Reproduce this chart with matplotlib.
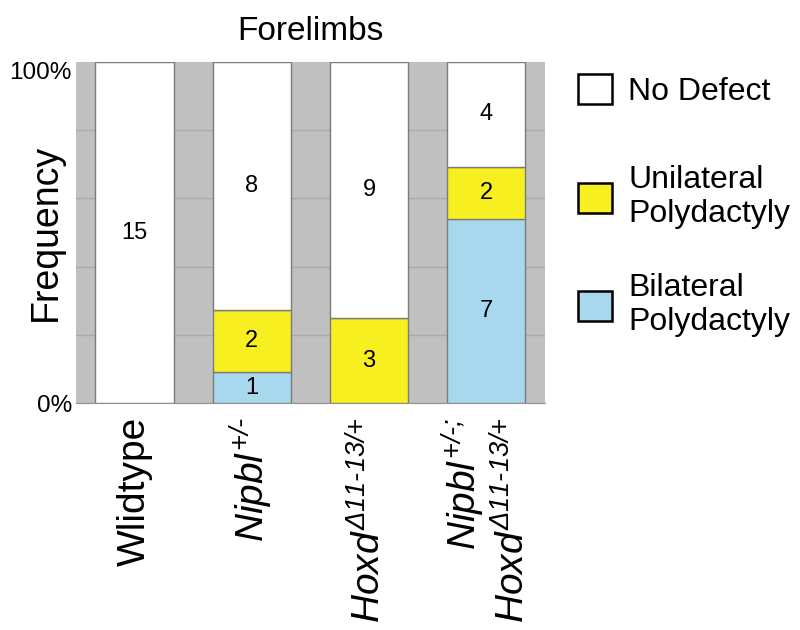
import matplotlib
matplotlib.use("Agg")
import matplotlib.pyplot as plt
from matplotlib.patches import Patch
import numpy as np

plt.rcParams['font.family'] = ['Liberation Sans', 'DejaVu Sans']
plt.rcParams['mathtext.fontset'] = 'custom'
plt.rcParams['mathtext.rm'] = 'Liberation Sans:italic'
plt.rcParams['mathtext.it'] = 'Liberation Sans:italic'

# data (counts per genotype)
genotypes = [
    "Wlidtype",
    r"$Nipbl^{\text{+/-}}$",
    r"$Hoxd^{\Delta\text{11-13/+}}$",
    r"$Nipbl^{\text{+/-;}}$" + "\n" + r"$Hoxd^{\Delta\text{11-13/+}}$",
]
bilateral = [0, 1, 0, 7]
unilateral = [0, 2, 3, 2]
no_defect = [15, 8, 9, 4]
categories = ["Bilateral\nPolydactyly", "Unilateral\nPolydactyly", "No Defect"]
colors = ["#a8d8ee", "#f7ef1f", "#ffffff"]

counts = np.array([bilateral, unilateral, no_defect], dtype=float)
frac = counts / counts.sum(axis=0)

fig = plt.figure(figsize=(8, 6.3), dpi=100)
ax = fig.add_axes([0.095, 0.360, 0.586, 0.5416])
ax.set_facecolor("#c0c0c0")

x = np.arange(len(genotypes))
bottom = np.zeros(len(genotypes))
handles = []
for i in range(3):
    ax.bar(x, frac[i], 0.67, bottom=bottom, color=colors[i],
           edgecolor="#7a7a7a", linewidth=1.0, zorder=3)
    for j in range(len(genotypes)):
        if counts[i, j] > 0:
            ax.text(x[j], bottom[j] + frac[i, j] / 2, f"{int(counts[i, j])}",
                    ha="center", va="center", fontsize=17, zorder=4)
    bottom += frac[i]
    handles.append(Patch(facecolor=colors[i], edgecolor="black", linewidth=1.8,
                         label=categories[i]))

ax.set_xlim(-0.5, 3.5)
ax.set_ylim(0, 1)
ax.set_yticks([0, 1])
ax.set_yticklabels(["0%", "100%"], fontsize=17.5)
ax.get_yticklabels()[1].set_va("top")
ax.set_yticks([0.2, 0.4, 0.6, 0.8, 1.0], minor=True)
ax.grid(True, which="minor", axis="y", color="#a9a9a9", linewidth=1, zorder=1)
ax.tick_params(axis="y", which="both", length=0, pad=3)
ax.set_xticks(x)
ax.set_xticklabels(genotypes, rotation=90, fontsize=28, multialignment="right")
ax.tick_params(axis="x", length=0, pad=10)
for s in ["top", "right", "left"]:
    ax.spines[s].set_visible(False)
ax.spines["bottom"].set_color("#909090")

ax.set_ylabel("Frequency", fontsize=27)
ax.yaxis.set_label_coords(-0.026, 0.5)
ax.set_title("Forelimbs", fontsize=24, pad=16)

# one legend entry per row so the rows can sit where the reference has them
for h, yc in zip(handles[::-1], [0.857, 0.687, 0.516]):
    fig.legend(handles=[h], loc="center left", bbox_to_anchor=(0.7225, yc),
               frameon=False, fontsize=23, handlelength=1.07, handleheight=1.07,
               handletextpad=0.5, borderpad=0, borderaxespad=0)

fig.savefig("out.png", dpi=100)
